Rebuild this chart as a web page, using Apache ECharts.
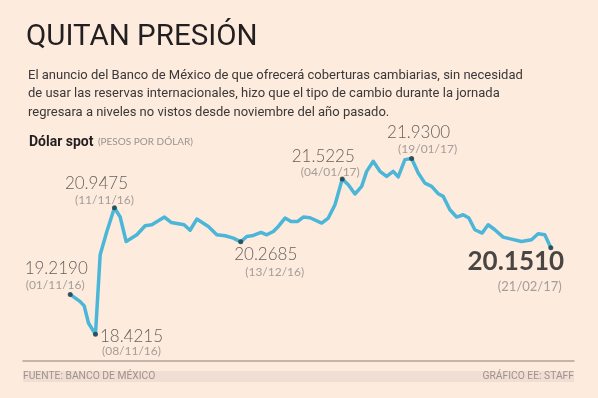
<!DOCTYPE html>
<html>
<head>
<meta charset="utf-8">
<script src="https://cdn.jsdelivr.net/npm/echarts@6/dist/echarts.min.js"></script>
<style>
  html, body { margin: 0; padding: 0; background: #fdebde; }
  #chart { width: 598px; height: 398px; }
</style>
</head>
<body>
<div id="chart"></div>
<script>
// Dólar spot: días transcurridos desde el 01/11/16 y tipo de cambio (pesos por dólar)
const dias = [0, 2.33, 3.26, 4.26, 5.89, 6.98, 8.54, 10.31, 11.64, 13.04, 15.53, 17.46, 19.02, 21.96,
  23.52, 25.22, 26.54, 27.94, 29.5, 32.2, 34.16, 36.09, 38.02, 39.74, 41.14, 42.68, 44.47, 45.8,
  47.33, 48.5, 50.06, 51.46, 53.02, 54.32, 55.88, 58.6, 60.14, 61.7, 63.4, 64.8, 66.36, 67.92,
  69.08, 70.62, 72.18, 73.74, 75.27, 76.44, 78, 79.56, 81.1, 82.65, 84.22, 85.75, 86.92, 88.48,
  90.04, 91.57, 92.9, 94.3, 96, 97.39, 98.95, 100.88, 102.84, 105.17, 107.5, 109.04, 110.59, 112]
const valores = [19.219, 19.075, 18.99, 18.649, 18.4215, 20.009, 20.475, 20.9475, 20.763, 20.275,
  20.409, 20.589, 20.609, 20.763, 20.655, 20.629, 20.609, 20.499, 20.723, 20.575, 20.409, 20.389,
  20.343, 20.2685, 20.375, 20.395, 20.455, 20.409, 20.475, 20.575, 20.743, 20.675, 20.675, 20.763,
  20.749, 20.643, 20.743, 21.009, 21.5225, 21.409, 21.223, 21.375, 21.675, 21.875, 21.675, 21.575,
  21.675, 21.563, 21.909, 21.93, 21.643, 21.439, 21.375, 21.229, 21.175, 20.909, 20.763, 20.809,
  20.743, 20.509, 20.443, 20.609, 20.509, 20.363, 20.323, 20.275, 20.309, 20.429, 20.409, 20.151]

// puntos destacados (índices dentro de la serie) y sus textos
const destacados = [0, 4, 7, 23, 38, 49, 69]
const etiquetasValor = ['19.2190', '18.4215', '20.9475', '20.2685', '21.5225', '21.9300', '20.1510']
const etiquetasFecha = ['(01/11/16)', '(08/11/16)', '(11/11/16)', '(13/12/16)', '(04/01/17)', '(19/01/17)', '(21/02/17)']

// desplazamiento de cada texto respecto a su punto
const offValor = [[-14, -26], [36, 2], [-18, -24], [25, 13], [-19, -22], [7, -26], [-35, 14]]
const offFecha = [[-15, -9], [36, 17], [-10, -8], [34, 30], [-12, -7], [16, -9], [-21, 39]]

const chart = echarts.init(document.getElementById('chart'))

const puntos = dias.map((d, i) => [d, valores[i]])
const ultimo = destacados.length - 1

const serieValor = destacados.map((idx, k) => ({
  value: puntos[idx],
  label: {
    formatter: etiquetasValor[k],
    offset: offValor[k],
    fontSize: k === ultimo ? 26 : 17,
    fontWeight: k === ultimo ? 'bold' : 300,
    color: k === ultimo ? '#1c1c1c' : '#3d3b3a'
  }
}))

const serieFecha = destacados.map((idx, k) => ({
  value: puntos[idx],
  label: {
    formatter: etiquetasFecha[k],
    offset: offFecha[k],
    fontSize: k === ultimo ? 13 : 12
  }
}))

chart.setOption({
  backgroundColor: '#fdebde',
  animation: false,
  textStyle: { fontFamily: 'Lato' },
  title: [
    {
      text: 'QUITAN PRESIÓN',
      left: 21,
      top: 18,
      textStyle: { fontFamily: 'Roboto', fontSize: 29.5, fontWeight: 'normal', color: '#231f20' }
    },
    {
      text: 'El anuncio del Banco de México de que ofrecerá coberturas cambiarias, sin necesidad\n' +
        'de usar las reservas internacionales, hizo que el tipo de cambio durante la jornada\n' +
        'regresara a niveles no vistos desde noviembre del año pasado.',
      left: 23,
      top: 61,
      textStyle: { fontFamily: 'Roboto', fontSize: 13, fontWeight: 'normal', color: '#3a3838', lineHeight: 18.7 }
    },
    {
      text: '{a|Dólar spot} {b|(PESOS POR DÓLAR)}',
      left: 24,
      top: 128,
      textStyle: {
        rich: {
          a: { fontFamily: 'Roboto', fontSize: 14, fontWeight: 'bold', color: '#231f20' },
          b: { fontFamily: 'Lato', fontSize: 10, fontWeight: 'normal', color: '#9a9390' }
        }
      }
    }
  ],
  grid: { left: 23, top: 130, width: 551, height: 230.5 },
  xAxis: {
    type: 'value',
    min: -11,
    max: 117.4,
    axisLine: { show: true, onZero: false, lineStyle: { color: '#b3a39b', width: 1.5 } },
    axisTick: { show: false },
    axisLabel: { show: false },
    splitLine: { show: false }
  },
  yAxis: {
    type: 'value',
    min: 17.9,
    max: 22.5,
    show: false
  },
  graphic: [
    { type: 'rect', shape: { x: 23, y: 371, width: 551, height: 11 }, style: { fill: '#f0ded4' }, silent: true },
    {
      type: 'text', left: 23, top: 371.5,
      style: { text: 'FUENTE: BANCO DE MÉXICO', font: '10.3px Roboto', fill: '#9e928c' }
    },
    {
      type: 'text', right: 24, top: 371.5,
      style: { text: 'GRÁFICO EE: STAFF', font: '10.3px Roboto', fill: '#9e928c' }
    }
  ],
  series: [
    {
      name: 'Dólar spot',
      type: 'line',
      data: puntos,
      showSymbol: false,
      lineStyle: { color: '#4bb6d8', width: 3.5, join: 'round', cap: 'round' },
      z: 2
    },
    {
      type: 'scatter',
      data: serieValor,
      symbolSize: 5,
      itemStyle: { color: '#1e3944' },
      label: {
        show: true,
        position: 'inside',
        align: 'center',
        verticalAlign: 'middle',
        fontFamily: 'Lato'
      },
      z: 3
    },
    {
      type: 'scatter',
      data: serieFecha,
      symbolSize: 0,
      label: {
        show: true,
        position: 'inside',
        align: 'center',
        verticalAlign: 'middle',
        fontFamily: 'Lato',
        color: '#8f8987'
      },
      z: 3
    }
  ]
})
</script>
</body>
</html>
